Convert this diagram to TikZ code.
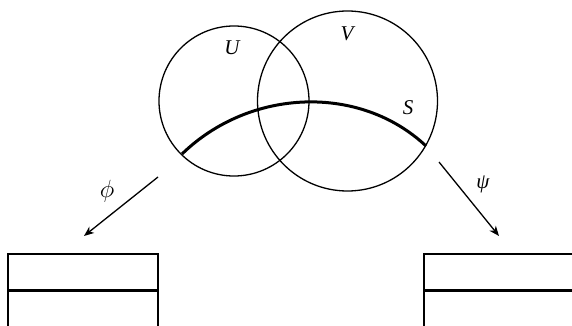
\documentclass[tikz,border=0pt]{standalone}
\usepackage{fontspec}
\setmainfont{Liberation Serif}
\usetikzlibrary{arrows.meta}
\begin{document}
\begin{tikzpicture}[x=1pt,y=-1pt,
  thin line/.style={line width=1.3pt},
  thick line/.style={line width=3pt},
  lab/.style={font=\fontsize{21}{24}\selectfont\itshape},
  maplab/.style={font=\fontsize{25}{28}\selectfont},
  map/.style={line width=1.3pt,-{Stealth[length=10pt,width=8pt,inset=3pt]}}]
\useasboundingbox (0,0) rectangle (572,326);
\clip (0,0) rectangle (572,326);
\node[circle,draw,thin line,minimum size=150pt,inner sep=0pt] (U) at (234,101) {};
\node[circle,draw,thin line,minimum size=180pt,inner sep=0pt] (V) at (347.5,101) {};
\coordinate (s0) at (182,154);
\coordinate (s1) at (426,146);
\draw[thick line] (s0) .. controls (250,88) and (360,84) .. (s1);
\node[lab] (lU) at (232,48) {U};
\node[lab] (lV) at (347,34) {V};
\node[lab] (lS) at (408,108) {S};
\coordinate (a0) at (158,177);
\coordinate (a1) at (84,236);
\coordinate (b0) at (439,162);
\coordinate (b1) at (499,236);
\draw[map] (a0) -- (a1);
\draw[map] (b0) -- (b1);
\node[maplab] (phi) at (107,191) {$\phi$};
\node[lab] (psi) at (483,184) {ψ};
\draw[thin line] (8,340) -- (8,254) -- (158,254) -- (158,340);
\draw[thick line] (8,290) -- (158,290);
\draw[thin line] (580,254) -- (424,254) -- (424,340);
\draw[thick line] (424,290) -- (580,290);
\end{tikzpicture}
\end{document}
